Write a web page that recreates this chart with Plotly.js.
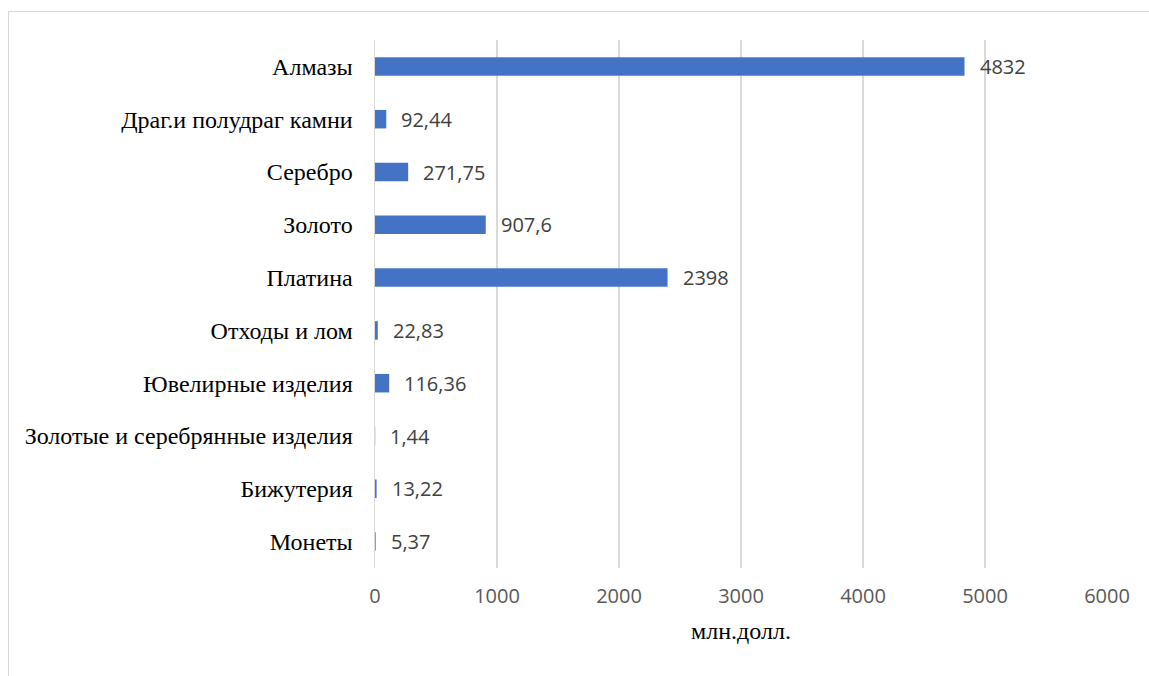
<!DOCTYPE html>
<html>
<head>
<meta charset="utf-8">
<script src="https://cdn.plot.ly/plotly-3.0.1.min.js"></script>
<style>
  html, body { margin: 0; padding: 0; background: #ffffff; }
  #chart { position: absolute; left: 0; top: 0; width: 1149px; height: 676px; }
  #frame { position: absolute; left: 8px; top: 11px; right: 0; bottom: 0;
           border-left: 1.5px solid #d9d9d9; border-top: 1.5px solid #d9d9d9;
           pointer-events: none; }
</style>
</head>
<body>
<div id="chart"></div>
<div id="frame"></div>
<script>
const categories = [
  "Алмазы",
  "Драг.и полудраг камни",
  "Серебро",
  "Золото",
  "Платина",
  "Отходы и лом",
  "Ювелирные изделия",
  "Золотые и серебрянные изделия",
  "Бижутерия",
  "Монеты"
];
const values = [4832, 92.44, 271.75, 907.6, 2398, 22.83, 116.36, 1.44, 13.22, 5.37];
const xTicks = [0, 1000, 2000, 3000, 4000, 5000, 6000];
const axisTitle = "млн.долл.";

const labels = values.map(v => String(v).replace(".", ","));

const trace = {
  type: "bar",
  orientation: "h",
  x: values,
  y: categories,
  width: 0.35,
  marker: { color: "#4472C4" },
  hoverinfo: "x+y"
};

const annotations = values.map((v, i) => ({
  x: v, y: categories[i], xref: "x", yref: "y",
  text: labels[i], showarrow: false,
  xanchor: "left", yanchor: "middle", xshift: 13,
  font: { family: "Open Sans, sans-serif", size: 20, color: "#404040" }
}));

const layout = {
  width: 1149, height: 676,
  paper_bgcolor: "rgba(0,0,0,0)", plot_bgcolor: "rgba(0,0,0,0)",
  margin: { l: 375, r: 42, t: 40, b: 108, pad: 0 },
  showlegend: false,
  bargap: 0.65,
  xaxis: {
    range: [0, 6000],
    tickvals: xTicks,
    ticktext: xTicks.map(String),
    showgrid: true, gridcolor: "#d9d9d9", gridwidth: 1.5,
    zeroline: false, showline: false,
    ticks: "outside", ticklen: 10, tickcolor: "rgba(0,0,0,0)",
    tickfont: { family: "Open Sans, sans-serif", size: 20, color: "#595959" },
    title: { text: axisTitle, standoff: 14,
             font: { family: "Liberation Serif, Times New Roman, serif", size: 24, color: "#000000" } },
    fixedrange: true
  },
  yaxis: {
    type: "category",
    categoryorder: "array", categoryarray: categories,
    autorange: "reversed",
    showgrid: false, zeroline: false,
    showline: true, linecolor: "#d9d9d9", linewidth: 1.5,
    ticks: "outside", ticklen: 16, tickcolor: "rgba(0,0,0,0)",
    tickfont: { family: "Liberation Serif, Times New Roman, serif", size: 24, color: "#000000" },
    fixedrange: true
  },
  annotations: annotations
};

Plotly.newPlot("chart", [trace], layout, { displayModeBar: false, staticPlot: true });
</script>
</body>
</html>
